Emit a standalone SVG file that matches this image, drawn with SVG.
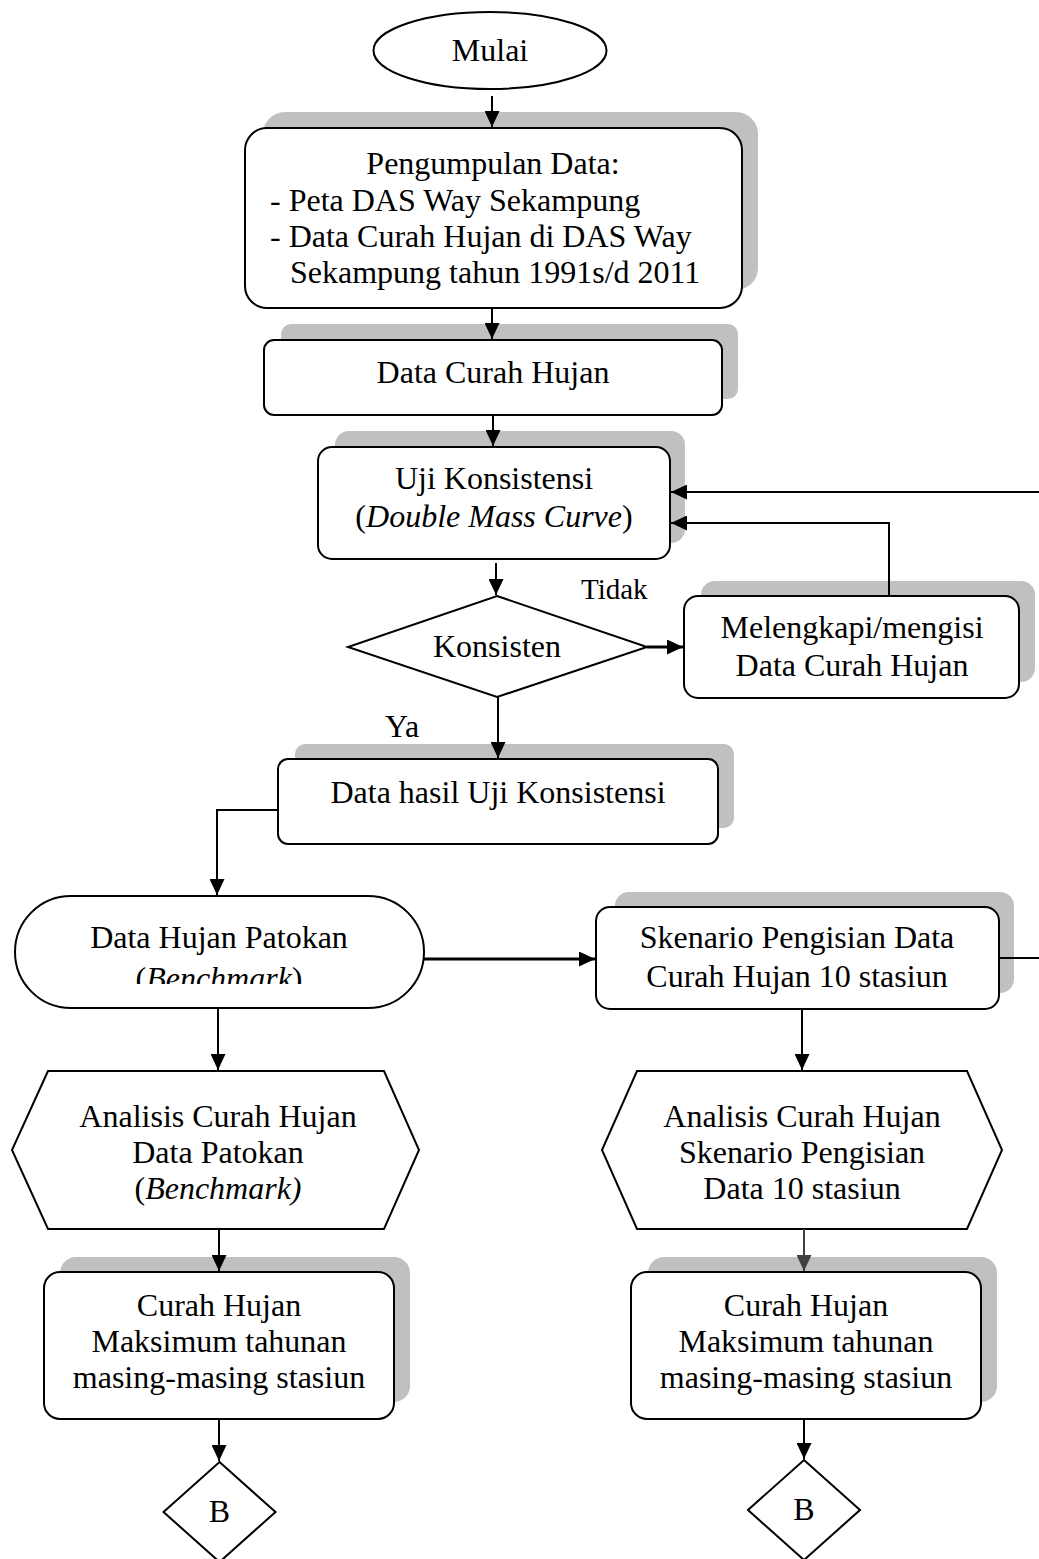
<svg xmlns="http://www.w3.org/2000/svg" width="1039" height="1559" viewBox="0 0 1039 1559">
<style>
.bx{fill:#fff;stroke:#000;stroke-width:2}
.sh{fill:#c0c0c0;stroke:none}
.t{font-family:"Liberation Serif","Times New Roman",serif;font-size:32px;fill:#000}
.c{text-anchor:middle}
.i{font-style:italic}
.ln{fill:none;stroke:#000;stroke-width:2}
</style>
<defs>
<marker id="ah" viewBox="0 0 16 15" refX="16" refY="7.5" markerWidth="16" markerHeight="15" markerUnits="userSpaceOnUse" orient="auto">
<path d="M0,0 L16,7.5 L0,15 Z" fill="#000"/>
</marker>
<marker id="ahg" viewBox="0 0 16 15" refX="16" refY="7.5" markerWidth="16" markerHeight="15" markerUnits="userSpaceOnUse" orient="auto">
<path d="M0,0 L16,7.5 L0,15 Z" fill="#404040"/>
</marker>
<clipPath id="clipB"><rect x="0" y="900" width="440" height="84"/></clipPath>
</defs>

<g id="mulai">
<ellipse class="bx" cx="490" cy="50.5" rx="116.5" ry="38.5"/>
<text class="t c" x="490" y="61">Mulai</text>
</g>

<g id="pengumpulan">
<rect class="sh" x="263" y="112" width="495" height="178" rx="22"/>
<rect class="bx" x="245" y="128" width="497" height="180" rx="22"/>
<text class="t c" x="493" y="174">Pengumpulan Data:</text>
<text class="t" x="270" y="211">- Peta DAS Way Sekampung</text>
<text class="t" x="270" y="247">- Data Curah Hujan di DAS Way</text>
<text class="t" x="290" y="283">Sekampung tahun 1991s/d 2011</text>
</g>

<g id="data-curah">
<rect class="sh" x="281" y="324" width="457" height="75" rx="10"/>
<rect class="bx" x="264" y="340" width="458" height="75" rx="10"/>
<text class="t c" x="493" y="383">Data Curah Hujan</text>
</g>

<g id="uji">
<rect class="sh" x="335" y="431" width="350" height="112" rx="14"/>
<rect class="bx" x="318" y="447" width="352" height="112" rx="14"/>
<text class="t c" x="494" y="489">Uji Konsistensi</text>
<text class="t c" x="494" y="527">(<tspan class="i">Double Mass Curve</tspan>)</text>
</g>

<g id="konsisten">
<polygon class="bx" points="497,596 647,647 497,697 348,647"/>
<text class="t c" x="497" y="657">Konsisten</text>
</g>

<g id="melengkapi">
<rect class="sh" x="701" y="581" width="334" height="101" rx="14"/>
<rect class="bx" x="684" y="596" width="335" height="102" rx="14"/>
<text class="t c" x="852" y="638">Melengkapi/mengisi</text>
<text class="t c" x="852" y="676">Data Curah Hujan</text>
</g>

<g id="data-hasil">
<rect class="sh" x="295" y="744" width="439" height="84" rx="10"/>
<rect class="bx" x="278" y="759" width="440" height="85" rx="10"/>
<text class="t c" x="498" y="803">Data hasil Uji Konsistensi</text>
</g>

<g id="patokan">
<rect class="bx" x="15" y="896" width="409" height="112" rx="56"/>
<text class="t c" x="219" y="948">Data Hujan Patokan</text>
<text class="t c" x="219" y="989" clip-path="url(#clipB)">(<tspan class="i">Benchmark</tspan>)</text>
</g>

<g id="skenario">
<rect class="sh" x="615" y="892" width="399" height="101" rx="14"/>
<rect class="bx" x="596" y="907" width="403" height="102" rx="14"/>
<text class="t c" x="797" y="948">Skenario Pengisian Data</text>
<text class="t c" x="797" y="987">Curah Hujan 10 stasiun</text>
</g>

<g id="analisis-patokan">
<polygon class="bx" points="48,1071 384,1071 419,1150 384,1229 48,1229 12,1150"/>
<text class="t c" x="218" y="1127">Analisis Curah Hujan</text>
<text class="t c" x="218" y="1163">Data Patokan</text>
<text class="t c" x="218" y="1199">(<tspan class="i">Benchmark)</tspan></text>
</g>

<g id="analisis-skenario">
<polygon class="bx" points="637,1071 967,1071 1002,1150 967,1229 637,1229 602,1150"/>
<text class="t c" x="802" y="1127">Analisis Curah Hujan</text>
<text class="t c" x="802" y="1163">Skenario Pengisian</text>
<text class="t c" x="802" y="1199">Data 10 stasiun</text>
</g>

<g id="maks-kiri">
<rect class="sh" x="60" y="1257" width="350" height="145" rx="16"/>
<rect class="bx" x="44" y="1272" width="350" height="147" rx="16"/>
<text class="t c" x="219" y="1316">Curah Hujan</text>
<text class="t c" x="219" y="1352">Maksimum tahunan</text>
<text class="t c" x="219" y="1388">masing-masing stasiun</text>
</g>

<g id="maks-kanan">
<rect class="sh" x="648" y="1257" width="349" height="145" rx="16"/>
<rect class="bx" x="631" y="1272" width="350" height="147" rx="16"/>
<text class="t c" x="806" y="1316">Curah Hujan</text>
<text class="t c" x="806" y="1352">Maksimum tahunan</text>
<text class="t c" x="806" y="1388">masing-masing stasiun</text>
</g>

<g id="b-kiri">
<polygon class="bx" points="219.5,1462 275.5,1512 219.5,1562 163.5,1512"/>
<text class="t c" x="219.5" y="1522">B</text>
</g>

<g id="b-kanan">
<polygon class="bx" points="804,1460 860,1510 804,1560 748,1510"/>
<text class="t c" x="804" y="1520">B</text>
</g>

<g id="connectors">
<path class="ln" d="M492,96 V127" marker-end="url(#ah)"/>
<path class="ln" d="M492,308 V339" marker-end="url(#ah)"/>
<path class="ln" d="M493,415 V446" marker-end="url(#ah)"/>
<path class="ln" d="M496,563 V595" marker-end="url(#ah)"/>
<path class="ln" d="M647,647 H683" marker-end="url(#ah)" style="stroke-width:3"/>
<path class="ln" d="M889,596 V523 H671" marker-end="url(#ah)"/>
<path class="ln" d="M999,958 H1045 V492 H671" marker-end="url(#ah)"/>
<path class="ln" d="M498,697 V758" marker-end="url(#ah)"/>
<path class="ln" d="M278,810 H217 V895" marker-end="url(#ah)"/>
<path class="ln" d="M424,959 H595" marker-end="url(#ah)" style="stroke-width:3"/>
<path class="ln" d="M218,1008 V1070" marker-end="url(#ah)"/>
<path class="ln" d="M802,1009 V1070" marker-end="url(#ah)"/>
<path class="ln" d="M219,1229 V1271" marker-end="url(#ah)"/>
<path class="ln" d="M804,1229 V1271" marker-end="url(#ahg)" style="stroke:#404040"/>
<path class="ln" d="M219,1419 V1461" marker-end="url(#ah)"/>
<path class="ln" d="M804,1419 V1459" marker-end="url(#ah)"/>
</g>

<g id="labels">
<text class="t" x="581" y="599" style="font-size:29px">Tidak</text>
<text class="t" x="385" y="737">Ya</text>
</g>
</svg>
